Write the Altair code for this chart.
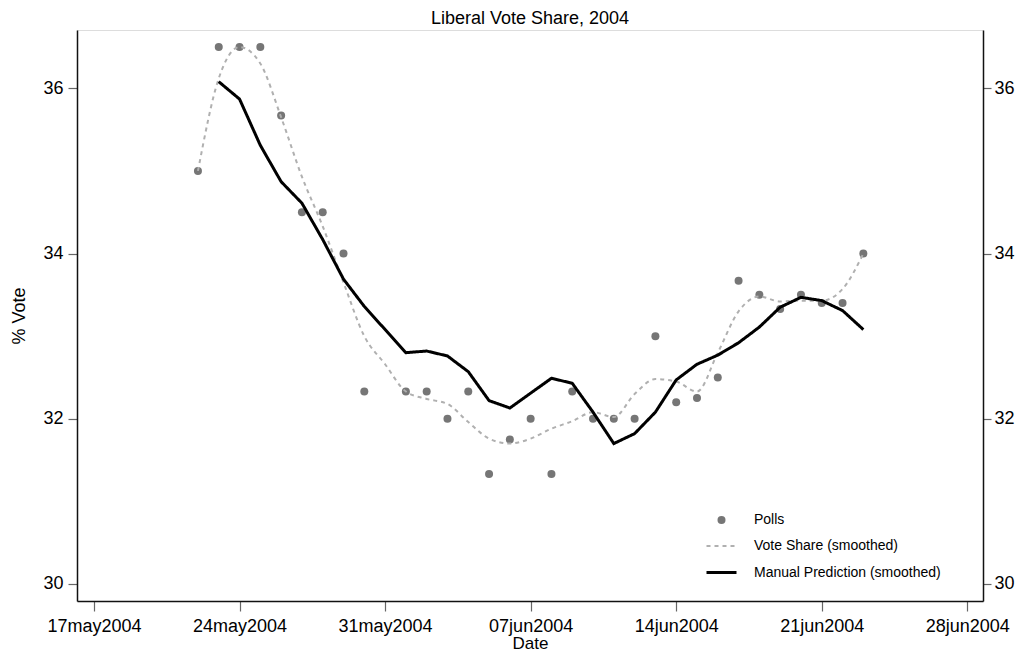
import altair as alt
import pandas as pd

# ---- data ----
poll_dates = ["2004-05-22", "2004-05-23", "2004-05-24", "2004-05-25", "2004-05-26",
              "2004-05-27", "2004-05-28", "2004-05-29", "2004-05-30", "2004-06-01",
              "2004-06-02", "2004-06-03", "2004-06-04", "2004-06-05", "2004-06-06",
              "2004-06-07", "2004-06-08", "2004-06-09", "2004-06-10", "2004-06-11",
              "2004-06-12", "2004-06-13", "2004-06-14", "2004-06-15", "2004-06-16",
              "2004-06-17", "2004-06-18", "2004-06-19", "2004-06-20", "2004-06-21",
              "2004-06-22", "2004-06-23"]
poll_values = [35.0, 36.5, 36.5, 36.5, 35.67,
               34.5, 34.5, 34.0, 32.33, 32.33,
               32.33, 32.0, 32.33, 31.33, 31.75,
               32.0, 31.33, 32.33, 32.0, 32.0,
               32.0, 33.0, 32.2, 32.25, 32.5,
               33.67, 33.5, 33.33, 33.5, 33.4,
               33.4, 34.0]

smooth_dates = ["2004-05-22", "2004-05-23", "2004-05-24", "2004-05-25", "2004-05-26",
                "2004-05-27", "2004-05-28", "2004-05-29", "2004-05-30", "2004-05-31",
                "2004-06-01", "2004-06-02", "2004-06-03", "2004-06-04", "2004-06-05",
                "2004-06-06", "2004-06-07", "2004-06-08", "2004-06-09", "2004-06-10",
                "2004-06-11", "2004-06-12", "2004-06-13", "2004-06-14", "2004-06-15",
                "2004-06-16", "2004-06-17", "2004-06-18", "2004-06-19", "2004-06-20",
                "2004-06-21", "2004-06-22", "2004-06-23"]
smooth_values = [35.0, 36.12, 36.5, 36.3, 35.65,
                 34.93, 34.33, 33.65, 33.0, 32.66,
                 32.33, 32.24, 32.18, 31.96, 31.76,
                 31.7, 31.76, 31.88, 31.97, 32.08,
                 32.02, 32.3, 32.48, 32.45, 32.33,
                 32.8, 33.3, 33.48, 33.42, 33.43,
                 33.43, 33.57, 34.0]

manual_dates = smooth_dates[1:]
manual_values = [36.08, 35.87, 35.31, 34.87,
                 34.61, 34.17, 33.69, 33.36, 33.08,
                 32.80, 32.82, 32.76, 32.57, 32.22,
                 32.13, 32.31, 32.49, 32.43, 32.08,
                 31.70, 31.82, 32.08, 32.47, 32.66,
                 32.77, 32.92, 33.11, 33.35, 33.47,
                 33.43, 33.31, 33.08]

series_names = ["Polls", "Vote Share (smoothed)", "Manual Prediction (smoothed)"]
x_tick_dates = [(5, 17), (5, 24), (5, 31), (6, 7), (6, 14), (6, 21), (6, 28)]
y_ticks = [30, 32, 34, 36]

polls = pd.DataFrame({"date": pd.to_datetime(poll_dates), "value": poll_values,
                      "series": series_names[0]})
smooth = pd.DataFrame({"date": pd.to_datetime(smooth_dates), "value": smooth_values,
                       "series": series_names[1]})
manual = pd.DataFrame({"date": pd.to_datetime(manual_dates), "value": manual_values,
                       "series": series_names[2]})

FONT = "Liberation Sans"

x_enc = alt.X(
    "date:T",
    title="Date",
    scale=alt.Scale(domain=[alt.DateTime(year=2004, month=5, date=16, hours=4, minutes=24),
                            alt.DateTime(year=2004, month=6, date=28, hours=18, minutes=7)]),
    axis=alt.Axis(
        values=[alt.DateTime(year=2004, month=m, date=d) for m, d in x_tick_dates],
        labelExpr="lower(timeFormat(datum.value, '%d%b%Y'))",
        grid=False, tickSize=10, labelPadding=6, titlePadding=0,
        labelFontSize=18, titleFontSize=17, labelFont=FONT, titleFont=FONT,
        titleFontWeight="normal", labelColor="black", titleColor="black",
        domainColor="#111", domainWidth=1.5, tickColor="#666", tickWidth=1.2,
        labelOverlap=False,
    ),
)

y_scale = alt.Scale(domain=[29.794, 36.706], nice=False, zero=False)

def y_axis(orient, title, tick, pad):
    kw = dict(orient=orient, values=y_ticks, grid=False, tickSize=tick, labelPadding=pad,
              labelFontSize=18, labelFont=FONT, labelColor="black",
              domainColor="#111", domainWidth=1.5, tickColor="#666", tickWidth=1.2)
    if title:
        kw.update(title=title, titleFontSize=18, titleFont=FONT, titleFontWeight="normal",
                  titleColor="black", titlePadding=14)
    else:
        kw.update(title="")
    return alt.Axis(**kw)

legend = alt.Legend(
    title=None, orient="none", legendX=628, legendY=483,
    labelFont=FONT, labelFontSize=14, labelColor="black", labelLimit=0,
    labelOffset=16, rowPadding=3, padding=0, symbolOpacity=1,
)

color_scale = alt.Scale(domain=series_names, range=["#767676", "#b0b0b0", "#000000"])
shape_scale = alt.Scale(domain=series_names, range=["circle", "stroke", "stroke"])
size_scale = alt.Scale(type="ordinal", domain=series_names, range=[64, 900, 900])
dash_scale = alt.Scale(domain=series_names, range=[[1, 0], [4, 4], [1, 0]])
width_scale = alt.Scale(type="ordinal", domain=series_names, range=[0, 2, 3])

points = alt.Chart(polls).mark_point(filled=True, opacity=1).encode(
    x=x_enc,
    y=alt.Y("value:Q", scale=y_scale, axis=y_axis("left", "% Vote", 9, 5)),
    color=alt.Color("series:N", scale=color_scale, legend=legend),
    shape=alt.Shape("series:N", scale=shape_scale, legend=legend),
    size=alt.Size("series:N", scale=size_scale, legend=legend),
)

vote_line = alt.Chart(smooth).mark_line(interpolate="monotone").encode(
    x=x_enc,
    y=alt.Y("value:Q", scale=y_scale, axis=y_axis("right", None, 8, 3)),
    color=alt.Color("series:N", scale=color_scale, legend=legend),
    strokeDash=alt.StrokeDash("series:N", scale=dash_scale, legend=legend),
    strokeWidth=alt.StrokeWidth("series:N", scale=width_scale, legend=legend),
)

manual_line = alt.Chart(manual).mark_line().encode(
    x=x_enc,
    y=alt.Y("value:Q", scale=y_scale, axis=None),
    color=alt.Color("series:N", scale=color_scale, legend=legend),
    strokeDash=alt.StrokeDash("series:N", scale=dash_scale, legend=legend),
    strokeWidth=alt.StrokeWidth("series:N", scale=width_scale, legend=legend),
)

chart = (
    alt.layer(points, vote_line, manual_line)
    .resolve_scale(y="shared")
    .resolve_axis(y="independent")
    .properties(
        width=906, height=571,
        autosize=alt.AutoSizeParams(type="none"),
        padding={"left": 69, "top": 22, "right": 33, "bottom": 50},
        title=alt.TitleParams("Liberal Vote Share, 2004", font=FONT, fontSize=18,
                              fontWeight="normal", color="black", offset=2),
    )
    .configure_view(stroke="#888", strokeWidth=1.5)
    .configure(background="white")
)

chart.save("out.html", embed_options={"renderer": "svg", "actions": False})
